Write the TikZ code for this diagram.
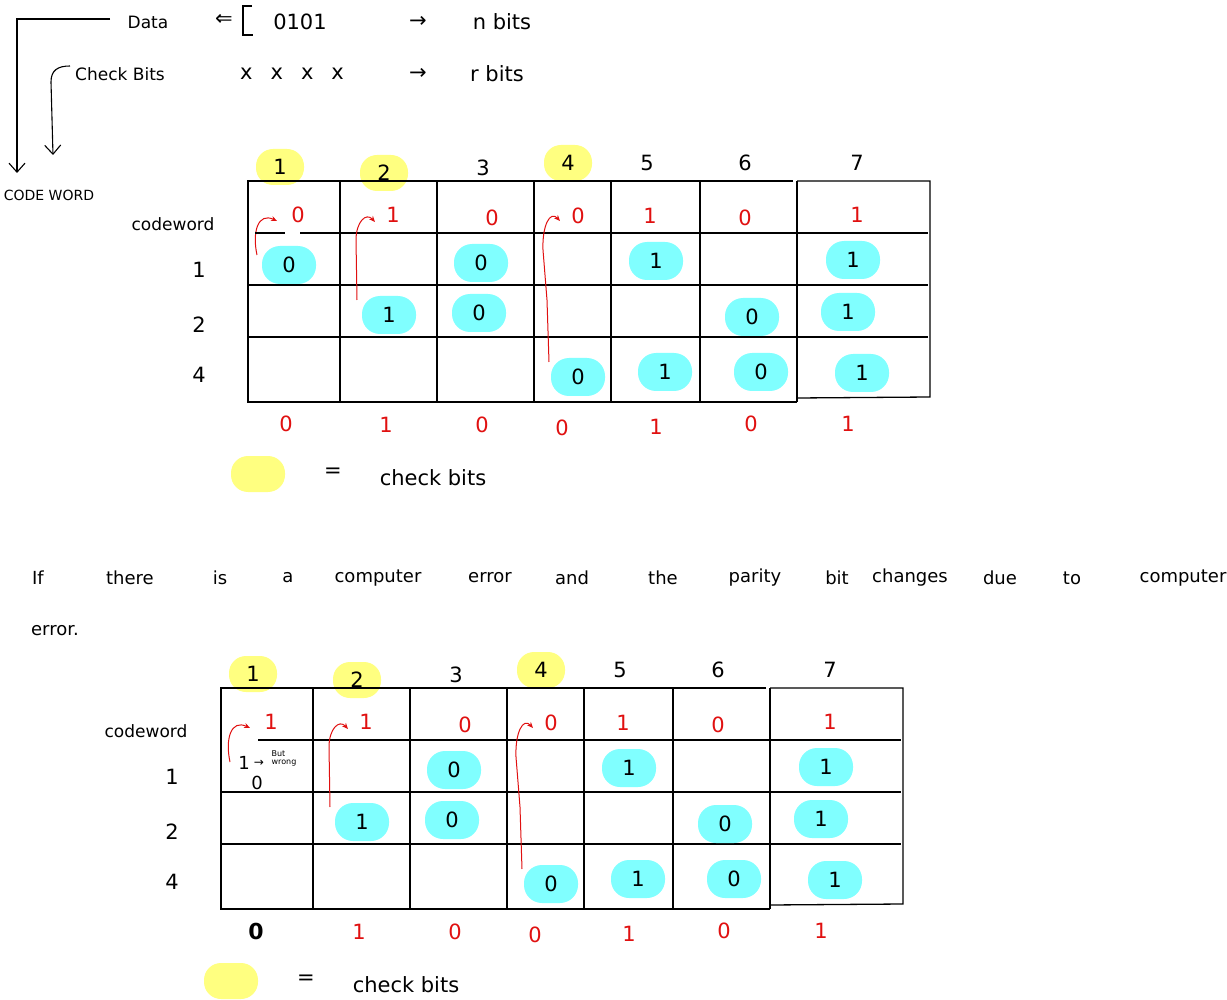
\documentclass[tikz,border=0pt]{standalone}
\usepackage{fontspec}
\setmainfont{DejaVu Sans}
\usetikzlibrary{arrows.meta}
\definecolor{hlcyan}{HTML}{80FFFF}
\definecolor{hlyellow}{HTML}{FFFF80}
\definecolor{penred}{HTML}{E01010}
\tikzset{
  txt/.style={font=\fontsize{21}{23}\selectfont, inner sep=0pt},
  senttxt/.style={font=\fontsize{18}{20}\selectfont, inner sep=0pt},
  smalltxt/.style={font=\fontsize{17}{19}\selectfont, inner sep=0pt},
  redtxt/.style={txt, text=penred},
  cblob/.style={txt, fill=hlcyan, rounded corners=18pt, minimum width=54pt, minimum height=38pt},
  yblob/.style={txt, fill=hlyellow, rounded corners=17pt, minimum width=48pt, minimum height=36pt},
  gridline/.style={line width=1.3pt},
  redarrow/.style={penred, line width=1pt, -{Stealth[length=6pt,width=5pt]}},
  pen/.style={line width=1.1pt},
  vtip/.style={pen, -{Straight Barb[length=9pt,width=16pt]}},
}
\newcommand\hamtable[3]{%
  % #1 prefix, #2 codeword col1 value, #3 bottom col1 node
  \node[yblob] (#1h1) at (280,167) {1};
  \node[yblob] (#1h2) at (384,173) {2};
  \node[txt] (#1h3) at (483,168) {3};
  \node[yblob] (#1h4) at (568,163) {4};
  \node[txt] (#1h5) at (647,163) {5};
  \node[txt] (#1h6) at (745,163) {6};
  \node[txt] (#1h7) at (857,163) {7};
  % grid
  \draw[gridline] (797,181) -- (930,181) -- (930,397) -- (797,398);
  \draw[gridline] (793,181) -- (248,181) -- (248,402) -- (797,402);
  \foreach \x in {340,437,534,611,700,797} \draw[gridline] (\x,181) -- (\x,402);
  \draw[gridline] (300,233) -- (928,233);
  \foreach \y in {285,337} \draw[gridline] (248,\y) -- (928,\y);
  % labels
  \node[smalltxt] (#1cwl) at (173,224) {codeword};
  \node[txt] (#1r1) at (199,270) {1};
  \node[txt] (#1r2) at (199,325) {2};
  \node[txt] (#1r4) at (199,375) {4};
  % codeword row
  \node[redtxt] (#1c1) at (298,215) {#2};
  \node[redtxt] (#1c2) at (393,215) {1};
  \node[redtxt] (#1c3) at (492,218) {0};
  \node[redtxt] (#1c4) at (578,216) {0};
  \node[redtxt] (#1c5) at (650,216) {1};
  \node[redtxt] (#1c6) at (745,218) {0};
  \node[redtxt] (#1c7) at (857,215) {1};
  % parity rows
  \node[cblob] (#1b13) at (481,263) {0};
  \node[cblob] (#1b15) at (656,261) {1};
  \node[cblob] (#1b17) at (853,260) {1};
  \node[cblob] (#1b22) at (389,315) {1};
  \node[cblob] (#1b23) at (479,313) {0};
  \node[cblob] (#1b26) at (752,317) {0};
  \node[cblob] (#1b27) at (848,312) {1};
  \node[cblob] (#1b44) at (578,377) {0};
  \node[cblob] (#1b45) at (665,372) {1};
  \node[cblob] (#1b46) at (761,372) {0};
  \node[cblob] (#1b47) at (862,373) {1};
  % bottom row
  \node #3;
  \node[redtxt] (#1s2) at (386,425) {1};
  \node[redtxt] (#1s3) at (482,425) {0};
  \node[redtxt] (#1s4) at (562,428) {0};
  \node[redtxt] (#1s5) at (656,427) {1};
  \node[redtxt] (#1s6) at (751,424) {0};
  \node[redtxt] (#1s7) at (848,424) {1};
  % red arrows
  \coordinate (#1a1) at (257,255); \coordinate (#1e1) at (277,221);
  \coordinate (#1a2) at (357,300); \coordinate (#1e2) at (375,222);
  \coordinate (#1a4) at (549,362); \coordinate (#1e4) at (560,221);
  \draw[redarrow] (#1a1) .. controls (252,232) and (258,212) .. (#1e1);
  \draw[redarrow] (#1a2) -- (356,240) .. controls (356,222) and (366,212) .. (#1e2);
  \draw[redarrow] (#1a4) -- (547,300) -- (543,250) .. controls (542,226) and (550,210) .. (#1e4);
  % legend
  \node[yblob, minimum width=54pt] (#1leg) at (258,474) {};
  \node[txt] (#1eq) at (333,473) {=};
  \node[txt] (#1lt) at (433,478) {check bits};
}
\begin{document}
\begin{tikzpicture}[x=1pt,y=-1pt]
\useasboundingbox (0,0) rectangle (1227,1000);
% top annotations
\node[smalltxt] (data) at (148,22) {Data};
\node[txt] (larr) at (224,20) {⇐};
\draw[pen] (252,6) -- (243,6) -- (243,35) -- (253,35);
\node[txt] (bits) at (300,22) {0101};
\node[txt] (ar1) at (418,22) {→};
\node[txt] (nb) at (502,22) {n bits};
\node[smalltxt] (chk) at (120,74) {Check Bits};
\node[txt] (xs) at (292,74) {x\hspace{18pt}x\hspace{18pt}x\hspace{18pt}x};
\node[txt] (ar2) at (418,74) {→};
\node[txt] (rb) at (497,74) {r bits};
\node[font=\fontsize{14}{16}\selectfont, inner sep=0pt] (cw) at (49,195) {CODE WORD};
\coordinate (dL) at (110,19);
\coordinate (cL) at (70,66);
\coordinate (cwt1) at (17,173);
\coordinate (cwt2) at (53,155);
\draw[vtip] (dL) -- (17,19) -- (cwt1);
\draw[vtip] (cL) .. controls (58,66) and (51,70) .. (51,82) -- (cwt2);
% first table
\hamtable{A}{0}{[redtxt] (As1) at (286,424) {0}}
\draw[gridline] (255,233) -- (285,233);
\node[cblob] (Ab11) at (289,265) {0};
% sentence
\foreach \w/\x [count=\i] in {If/38,there/130,is/220,a/288,computer/378,error/490,and/572,the/663,parity/755,bit/837,changes/910,due/1000,to/1072,computer/1183}
  \node[senttxt] (w\i) at (\x,578) {\w};
\node[senttxt] (w15) at (55,631) {error.};
% second table
\begin{scope}[shift={(-27,507)}]
\hamtable{B}{1}{[txt, font=\fontsize{22}{24}\selectfont\bfseries] (Bs1) at (283,424) {0}}
\draw[gridline] (285,233) -- (300,233);
\node[txt, font=\fontsize{18}{20}\selectfont] (Bwr1) at (271,256) {1};
\node[inner sep=0pt, font=\fontsize{12}{12}\selectfont] (Bwr2) at (286,256) {→};
\node[inner sep=0pt, font=\fontsize{8}{8}\selectfont, align=left] (Bwr3) at (311,251) {But\\wrong};
\node[txt, font=\fontsize{18}{20}\selectfont] (Bz) at (284,276) {0};
\end{scope}
\end{tikzpicture}
\end{document}
